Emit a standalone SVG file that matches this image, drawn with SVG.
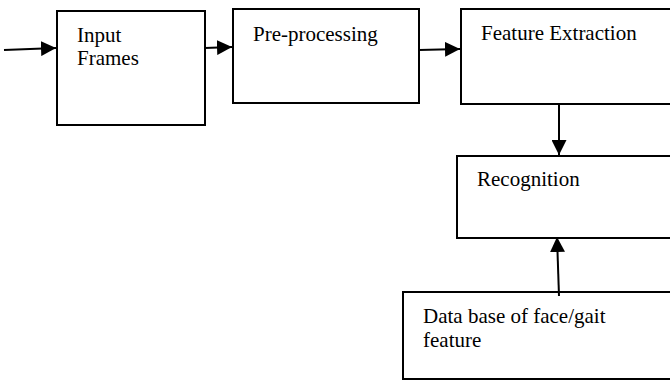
<svg xmlns="http://www.w3.org/2000/svg" width="670" height="383" viewBox="0 0 670 383">
<style>
.box{fill:#fff;stroke:#000;stroke-width:2}
.t{font-family:"Liberation Serif","Times New Roman",serif;font-size:21px;fill:#000}
.c{stroke:#000;stroke-width:2;fill:none}
</style>
<defs>
<marker id="ah" markerWidth="15" markerHeight="15" viewBox="0 0 15 15" refX="15" refY="7.5" orient="auto" markerUnits="userSpaceOnUse">
<path d="M0,0 L15,7.5 L0,15 Z" fill="#000"/>
</marker>
</defs>
<rect width="670" height="383" fill="#fff"/>
<g id="input-frames">
<rect class="box" x="57" y="11" width="148" height="114"/>
<text class="t" x="77" y="42">Input</text>
<text class="t" x="77" y="65">Frames</text>
</g>
<g id="pre-processing">
<rect class="box" x="233" y="9" width="186" height="94"/>
<text class="t" x="253" y="41">Pre-processing</text>
</g>
<g id="feature-extraction">
<rect class="box" x="461" y="9" width="220" height="95"/>
<text class="t" x="481" y="40">Feature Extraction</text>
</g>
<g id="recognition">
<rect class="box" x="457" y="156" width="230" height="82"/>
<text class="t" x="477" y="186">Recognition</text>
</g>
<g id="database">
<rect class="box" x="403" y="292" width="280" height="87"/>
<text class="t" x="423" y="323">Data base of face/gait</text>
<text class="t" x="423" y="347">feature</text>
</g>
<g id="connectors">
<line class="c" x1="4" y1="50" x2="56" y2="48" marker-end="url(#ah)"/>
<line class="c" x1="205" y1="48" x2="232" y2="47" marker-end="url(#ah)"/>
<line class="c" x1="419" y1="50" x2="460" y2="49" marker-end="url(#ah)"/>
<line class="c" x1="559" y1="104" x2="559" y2="155" marker-end="url(#ah)"/>
<line class="c" x1="559" y1="296" x2="557" y2="237" marker-end="url(#ah)"/>
</g>
</svg>
